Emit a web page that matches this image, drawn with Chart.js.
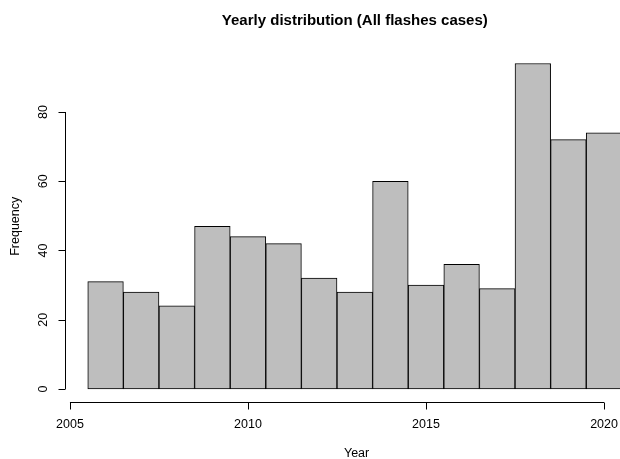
<!DOCTYPE html>
<html><head><meta charset="utf-8">
<script src="https://cdn.jsdelivr.net/npm/chart.js@4/dist/chart.umd.min.js"></script>
<style>
html,body{margin:0;padding:0;overflow:hidden;background:#fff;width:620px;height:459px}
#wrap{width:660px;height:459px}
</style></head>
<body><div id="wrap"><canvas id="c" width="660" height="459"></canvas></div>
<script>
const years = [2006,2007,2008,2009,2010,2011,2012,2013,2014,2015,2016,2017,2018,2019,2020];
const frequency = [31,28,24,47,44,42,32,28,60,30,36,29,94,72,74];
const xTicks = [2005,2010,2015,2020];
const yTicks = [0,20,40,60,80];
const titleText = 'Yearly distribution (All flashes cases)';
const xLabel = 'Year';
const yLabel = 'Frequency';

const FONT = '"Liberation Sans", Arial, sans-serif';

const rAxes = {
  id: 'rAxes',
  afterDraw(chart) {
    const ctx = chart.ctx, xs = chart.scales.x, ys = chart.scales.y, ca = chart.chartArea;
    ctx.save();
    ctx.strokeStyle = '#000';
    ctx.fillStyle = '#000';
    ctx.lineWidth = 1;
    // x axis
    const yAx = Math.round(ca.bottom) + 0.5;
    ctx.beginPath();
    ctx.moveTo(xs.getPixelForValue(xTicks[0]), yAx);
    ctx.lineTo(xs.getPixelForValue(xTicks[xTicks.length-1]), yAx);
    xTicks.forEach(t => {
      const px = Math.round(xs.getPixelForValue(t)) + 0.5;
      ctx.moveTo(px, yAx); ctx.lineTo(px, yAx + 7);
    });
    ctx.stroke();
    ctx.font = '12.5px ' + FONT;
    ctx.textAlign = 'center'; ctx.textBaseline = 'middle';
    xTicks.forEach(t => ctx.fillText(String(t), xs.getPixelForValue(t), 425));
    // y axis
    const xAx = Math.round(ca.left) - 0.5;
    ctx.beginPath();
    ctx.moveTo(xAx, ys.getPixelForValue(yTicks[0]));
    ctx.lineTo(xAx, ys.getPixelForValue(yTicks[yTicks.length-1]));
    yTicks.forEach(t => {
      const py = Math.round(ys.getPixelForValue(t)) + 0.5;
      ctx.moveTo(xAx, py); ctx.lineTo(xAx - 7, py);
    });
    ctx.stroke();
    yTicks.forEach(t => {
      ctx.save();
      ctx.translate(44, ys.getPixelForValue(t));
      ctx.rotate(-Math.PI/2);
      ctx.fillText(String(t), 0, 0);
      ctx.restore();
    });
    // axis titles
    ctx.fillText(xLabel, (xs.getPixelForValue(xTicks[0]) + ca.right) / 2 , 454);
    ctx.save();
    ctx.translate(16, (ca.top + ca.bottom) / 2);
    ctx.rotate(-Math.PI/2);
    ctx.fillText(yLabel, 0, 0);
    ctx.restore();
    // title
    ctx.font = 'bold 15px ' + FONT;
    ctx.fillText(titleText, (ca.left + ca.right) / 2, 21);
    ctx.restore();
  }
};

new Chart(document.getElementById('c'), {
  type: 'bar',
  data: {
    datasets: [{
      data: years.map((y, i) => ({x: y, y: frequency[i]})),
      backgroundColor: '#BEBEBE',
      borderColor: '#000',
      borderWidth: 1,
      borderSkipped: false,
      barPercentage: 1,
      categoryPercentage: 1,
      clip: false
    }]
  },
  options: {
    responsive: false,
    animation: false,
    devicePixelRatio: 1,
    layout: { padding: { left: 66.4, right: 16.8, top: 50.5, bottom: 57 } },
    plugins: { legend: { display: false }, tooltip: { enabled: false }, title: { display: false } },
    scales: {
      x: { type: 'linear', min: 2004.9, max: 2021.1, display: false, offset: false },
      y: { min: -3.76, max: 97.76, display: false }
    }
  },
  plugins: [rAxes]
});
</script>
</body></html>
